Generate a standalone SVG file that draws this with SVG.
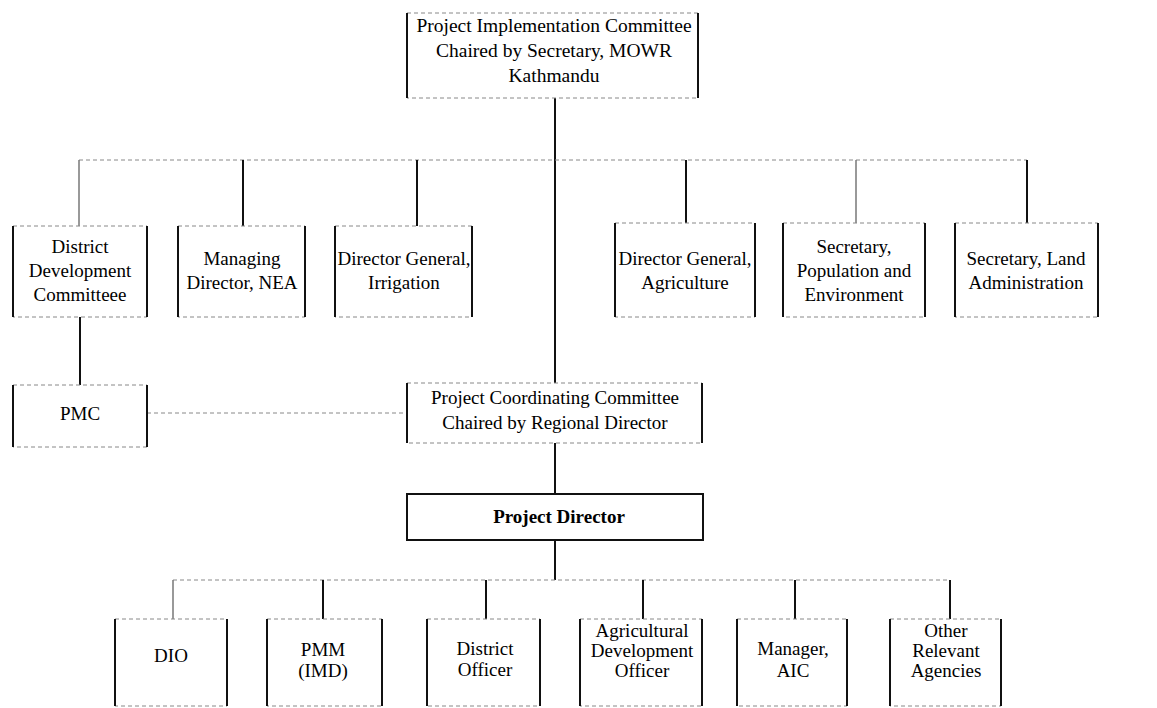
<svg xmlns="http://www.w3.org/2000/svg" width="1157" height="708" viewBox="0 0 1157 708">
<style>
text{font-family:"Liberation Serif","Times New Roman",serif;font-size:19px;fill:#000;text-anchor:middle}
.b{font-weight:bold}
.t{font-size:19.5px}
.box{fill:#fff;stroke:#888;stroke-width:1;stroke-dasharray:4 3}
.side{stroke:#111;stroke-width:2}
.solid{fill:#fff;stroke:#111;stroke-width:2}
.v{stroke:#111;stroke-width:2;fill:none}
.vg{stroke:#777;stroke-width:1.5;fill:none}
.h{stroke:#888;stroke-width:1;stroke-dasharray:4 3;fill:none}
</style>
<rect width="1157" height="708" fill="#fff"/>
<g id="connectors">
<line class="v" x1="555" y1="98" x2="555" y2="383"/>
<line class="h" x1="79" y1="160" x2="1027" y2="160"/>
<line class="vg" x1="79" y1="160" x2="79" y2="226"/>
<line class="v" x1="243" y1="160" x2="243" y2="226"/>
<line class="v" x1="417" y1="160" x2="417" y2="226"/>
<line class="v" x1="686" y1="160" x2="686" y2="223"/>
<line class="vg" x1="856" y1="160" x2="856" y2="223"/>
<line class="v" x1="1027" y1="160" x2="1027" y2="223"/>
<line class="v" x1="80" y1="317" x2="80" y2="385"/>
<line class="h" x1="147" y1="413" x2="407" y2="413"/>
<line class="v" x1="555" y1="443" x2="555" y2="494"/>
<line class="v" x1="555" y1="540" x2="555" y2="580"/>
<line class="h" x1="173" y1="580" x2="950" y2="580"/>
<line class="vg" x1="173" y1="580" x2="173" y2="619"/>
<line class="v" x1="323" y1="580" x2="323" y2="619"/>
<line class="v" x1="486" y1="580" x2="486" y2="619"/>
<line class="v" x1="643" y1="580" x2="643" y2="619"/>
<line class="v" x1="795" y1="580" x2="795" y2="619"/>
<line class="v" x1="950" y1="580" x2="950" y2="619"/>
</g>
<g id="pic">
<rect class="box" x="407" y="13" width="291" height="85"/>
<line class="side" x1="407" y1="13" x2="407" y2="98"/><line class="side" x1="698" y1="13" x2="698" y2="98"/>
<text class="t" x="554" y="32">Project Implementation Committee</text>
<text class="t" x="554" y="57">Chaired by Secretary, MOWR</text>
<text class="t" x="554" y="82">Kathmandu</text>
</g>
<g id="ddc">
<rect class="box" x="13" y="226" width="134" height="91"/>
<line class="side" x1="13" y1="226" x2="13" y2="317"/><line class="side" x1="147" y1="226" x2="147" y2="317"/>
<text x="80" y="253">District</text>
<text x="80" y="277">Development</text>
<text x="80" y="301">Committeee</text>
</g>
<g id="md">
<rect class="box" x="178" y="226" width="127" height="91"/>
<line class="side" x1="178" y1="226" x2="178" y2="317"/><line class="side" x1="305" y1="226" x2="305" y2="317"/>
<text x="242" y="265">Managing</text>
<text x="242" y="289">Director, NEA</text>
</g>
<g id="dgi">
<rect class="box" x="335" y="226" width="137" height="91"/>
<line class="side" x1="335" y1="226" x2="335" y2="317"/><line class="side" x1="472" y1="226" x2="472" y2="317"/>
<text x="404" y="265">Director General,</text>
<text x="404" y="289">Irrigation</text>
</g>
<g id="dga">
<rect class="box" x="615" y="223" width="140" height="94"/>
<line class="side" x1="615" y1="223" x2="615" y2="317"/><line class="side" x1="755" y1="223" x2="755" y2="317"/>
<text x="685" y="265">Director General,</text>
<text x="685" y="289">Agriculture</text>
</g>
<g id="spe">
<rect class="box" x="783" y="223" width="142" height="94"/>
<line class="side" x1="783" y1="223" x2="783" y2="317"/><line class="side" x1="925" y1="223" x2="925" y2="317"/>
<text x="854" y="253">Secretary,</text>
<text x="854" y="277">Population and</text>
<text x="854" y="301">Environment</text>
</g>
<g id="sla">
<rect class="box" x="955" y="223" width="143" height="94"/>
<line class="side" x1="955" y1="223" x2="955" y2="317"/><line class="side" x1="1098" y1="223" x2="1098" y2="317"/>
<text x="1026" y="265">Secretary, Land</text>
<text x="1026" y="289">Administration</text>
</g>
<g id="pmc">
<rect class="box" x="13" y="385" width="134" height="62"/>
<line class="side" x1="13" y1="385" x2="13" y2="447"/><line class="side" x1="147" y1="385" x2="147" y2="447"/>
<text x="80" y="420">PMC</text>
</g>
<g id="pcc">
<rect class="box" x="407" y="383" width="295" height="60"/>
<line class="side" x1="407" y1="383" x2="407" y2="443"/><line class="side" x1="702" y1="383" x2="702" y2="443"/>
<text x="555" y="404">Project Coordinating Committee</text>
<text x="555" y="429">Chaired by Regional  Director</text>
</g>
<g id="pd">
<rect class="solid" x="407" y="494" width="296" height="46"/>
<text class="b" x="559" y="523">Project Director</text>
</g>
<g id="dio">
<rect class="box" x="115" y="619" width="112" height="87"/>
<line class="side" x1="115" y1="619" x2="115" y2="706"/><line class="side" x1="227" y1="619" x2="227" y2="706"/>
<text x="171" y="662">DIO</text>
</g>
<g id="pmm">
<rect class="box" x="267" y="619" width="115" height="87"/>
<line class="side" x1="267" y1="619" x2="267" y2="706"/><line class="side" x1="382" y1="619" x2="382" y2="706"/>
<text x="323" y="656">PMM</text>
<text x="323" y="677">(IMD)</text>
</g>
<g id="do">
<rect class="box" x="427" y="619" width="113" height="87"/>
<line class="side" x1="427" y1="619" x2="427" y2="706"/><line class="side" x1="540" y1="619" x2="540" y2="706"/>
<text x="485" y="655">District</text>
<text x="485" y="676">Officer</text>
</g>
<g id="ado">
<rect class="box" x="580" y="619" width="122" height="87"/>
<line class="side" x1="580" y1="619" x2="580" y2="706"/><line class="side" x1="702" y1="619" x2="702" y2="706"/>
<text x="642" y="637">Agricultural</text>
<text x="642" y="657">Development</text>
<text x="642" y="677">Officer</text>
</g>
<g id="aic">
<rect class="box" x="737" y="619" width="110" height="87"/>
<line class="side" x1="737" y1="619" x2="737" y2="706"/><line class="side" x1="847" y1="619" x2="847" y2="706"/>
<text x="793" y="655">Manager,</text>
<text x="793" y="677">AIC</text>
</g>
<g id="ora">
<rect class="box" x="890" y="619" width="111" height="87"/>
<line class="side" x1="890" y1="619" x2="890" y2="706"/><line class="side" x1="1001" y1="619" x2="1001" y2="706"/>
<text x="946" y="637">Other</text>
<text x="946" y="657">Relevant</text>
<text x="946" y="677">Agencies</text>
</g>
</svg>
